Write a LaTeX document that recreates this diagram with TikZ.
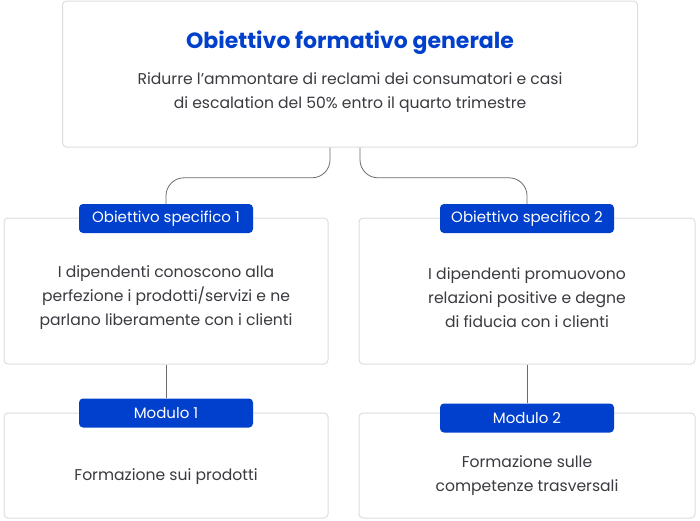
\documentclass[tikz,border=0pt]{standalone}
\usepackage{fontspec}
\setmainfont{Poppins}
\usetikzlibrary{positioning,calc}
\definecolor{brandblue}{HTML}{0040CC}
\definecolor{cardgray}{HTML}{DCDDE0}
\definecolor{textgray}{HTML}{3A3A40}
\definecolor{linkgray}{HTML}{6A6A6A}

\begin{document}
\begin{tikzpicture}[x=1pt, y=-1pt,
    card/.style={draw=cardgray, line width=1pt, rounded corners=4pt, fill=white, inner sep=0pt},
    tag/.style={fill=brandblue, text=white, rounded corners=4pt, minimum width=174pt, minimum height=29pt, inner sep=0pt, font=\fontsize{15}{16}\selectfont},
    body/.style={text=textgray, align=center, font=\fontsize{15.6}{24}\selectfont},
    link/.style={draw=linkgray, line width=0.8pt, rounded corners=18pt}]
  % Page frame (700 x 520)
  \useasboundingbox (0,0) rectangle (700,520);
  \def\leftx{166}
  \def\rightx{527}

  % Cards
  \node[card, minimum width=575pt, minimum height=146pt] (goal) at (350,74) {};
  \node[card, minimum width=324pt, minimum height=146pt] (spec1card) at (\leftx,291) {};
  \node[card, minimum width=336pt, minimum height=146pt] (spec2card) at (\rightx,291) {};
  \node[card, minimum width=324pt, minimum height=105pt] (mod1card) at (\leftx,465.5) {};
  \node[card, minimum width=336pt, minimum height=105pt] (mod2card) at (\rightx,465.5) {};

  % Top card text
  \node[text=brandblue, font=\fontsize{22}{24}\bfseries\selectfont] (goaltitle) at (350,43) {Obiettivo formativo generale};
  \node[body] (goaltext) at (350,93) {Ridurre l’ammontare di reclami dei consumatori e casi\\di escalation del 50\% entro il quarto trimestre};

  % Tags on the cards
  \node[tag] (spec1) at (\leftx,218.5) {Obiettivo specifico 1};
  \node[tag] (spec2) at (\rightx,218.5) {Obiettivo specifico 2};
  \node[tag] (mod1) at (\leftx,413) {Modulo 1};
  \node[tag] (mod2) at (\rightx,418) {Modulo 2};

  % Card texts
  \node[body] (spec1text) at (\leftx,298) {I dipendenti conoscono alla\\perfezione i prodotti/servizi e ne\\parlano liberamente con i clienti};
  \node[body] (spec2text) at (\rightx,298) {I dipendenti promuovono\\relazioni positive e degne\\di fiducia con i clienti};
  \node[body] (mod1text) at (\leftx,477) {Formazione sui prodotti};
  \node[body] (mod2text) at (\rightx,476) {Formazione sulle\\competenze trasversali};

  % Connectors
  \draw[link] ([xshift=-20pt]goal.south) |- ([yshift=26pt]spec1.north) -- (spec1.north);
  \draw[link] ([xshift=10pt]goal.south) |- ([yshift=26pt]spec2.north) -- (spec2.north);
  \draw[link] (spec1card.south) -- (mod1.north);
  \draw[link] (spec2card.south) -- (mod2.north);
\end{tikzpicture}
\end{document}
